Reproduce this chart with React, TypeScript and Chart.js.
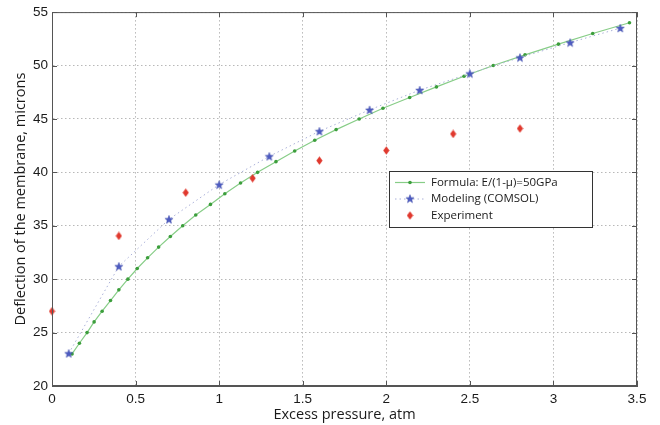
import React, { useEffect, useRef } from "react";
import { Chart, registerables } from "chart.js";
Chart.register(...registerables);

// ---- Data ----
const formulaLabel = "Formula: E/(1-\u03bc)=50GPa";
const modelingLabel = "Modeling (COMSOL)";
const experimentLabel = "Experiment";

const formulaPressure = [0.12, 0.164, 0.21, 0.252, 0.3, 0.35, 0.4, 0.454, 0.51, 0.572, 0.638, 0.708, 0.782, 0.86, 0.948, 1.034, 1.128, 1.23, 1.34, 1.452, 1.572, 1.7, 1.838, 1.98, 2.14, 2.3, 2.465, 2.64, 2.83, 3.03, 3.235, 3.455];
const formulaDeflection = [23, 24, 25, 26, 27, 28, 29, 30, 31, 32, 33, 34, 35, 36, 37, 38, 39, 40, 41, 42, 43, 44, 45, 46, 47, 48, 49, 50, 51, 52, 53, 54];

const modelPressure = [0.1, 0.4, 0.7, 1.0, 1.3, 1.6, 1.9, 2.2, 2.5, 2.8, 3.1, 3.4];
const modelDeflection = [23.05, 31.2, 35.6, 38.85, 41.5, 43.85, 45.85, 47.7, 49.25, 50.75, 52.15, 53.5];

const expPressure = [0, 0.4, 0.8, 1.2, 1.6, 2.0, 2.4, 2.8];
const expDeflection = [27.0, 34.05, 38.1, 39.45, 41.1, 42.05, 43.6, 44.1];

const xTicks = [0, 0.5, 1, 1.5, 2, 2.5, 3, 3.5];
const yTicks = [20, 25, 30, 35, 40, 45, 50, 55];

const xTitle = "Excess pressure, atm";
const yTitle = "Deflection of the membrane, microns";

// ---- Styles ----
const GREEN_LINE = "rgb(135,205,135)";
const GREEN_DOT = "#3c9e3c";
const BLUE = "#4d5bc2";
const BLUE_DOT_LINE = "#aab0d8";
const RED = "#e0392e";
const AXIS = "#555";
const GRID = "#b8b8b8";
const TEXT = "#1a1a1a";
const SANS = "'Open Sans', sans-serif";
const TICKFONT = "'Liberation Sans', Arial, sans-serif";

function makeStar(): HTMLCanvasElement {
  const c = document.createElement("canvas");
  c.width = 10; c.height = 10;
  const g = c.getContext("2d")!;
  const cx = 5, cy = 5.4, R = 4.3, r = 1.8;
  g.beginPath();
  for (let i = 0; i < 10; i++) {
    const a = -Math.PI / 2 + (i * Math.PI) / 5;
    const rad = i % 2 === 0 ? R : r;
    const px = cx + rad * Math.cos(a), py = cy + rad * Math.sin(a);
    if (i === 0) g.moveTo(px, py); else g.lineTo(px, py);
  }
  g.closePath();
  g.fillStyle = BLUE;
  g.fill();
  g.strokeStyle = "#3b48a8";
  g.lineWidth = 0.5;
  g.stroke();
  return c;
}

function makeDiamond(): HTMLCanvasElement {
  const c = document.createElement("canvas");
  c.width = 7; c.height = 9;
  const g = c.getContext("2d")!;
  g.beginPath();
  g.moveTo(3.5, 0.3); g.lineTo(6.6, 4.5); g.lineTo(3.5, 8.7); g.lineTo(0.4, 4.5);
  g.closePath();
  g.fillStyle = RED;
  g.fill();
  return c;
}

export default function App() {
  const ref = useRef<HTMLCanvasElement | null>(null);

  useEffect(() => {
    if (!ref.current) return;
    const star = makeStar();
    const diamond = makeDiamond();

    const framePlugin = {
      id: "frameAndLegend",
      afterDraw(chart: any) {
        const { ctx, chartArea } = chart;
        const { left, right, top, bottom } = chartArea;
        const xs = chart.scales.x, ys = chart.scales.y;
        ctx.save();
        ctx.strokeStyle = AXIS;
        ctx.lineWidth = 1;
        ctx.strokeRect(left + 0.5, top + 0.5, right - left - 1, bottom - top - 1);
        const tl = 5;
        ctx.beginPath();
        xTicks.forEach((v) => {
          const px = Math.round(xs.getPixelForValue(v)) + 0.5;
          ctx.moveTo(px, bottom); ctx.lineTo(px, bottom - tl);
          ctx.moveTo(px, top); ctx.lineTo(px, top + tl);
        });
        yTicks.forEach((v) => {
          const py = Math.round(ys.getPixelForValue(v)) + 0.5;
          ctx.moveTo(left, py); ctx.lineTo(left + tl, py);
          ctx.moveTo(right, py); ctx.lineTo(right - tl, py);
        });
        ctx.stroke();

        // legend
        const bx = 389.5, by = 171.5, bw = 203, bh = 56;
        ctx.fillStyle = "#fff";
        ctx.fillRect(bx, by, bw, bh);
        ctx.strokeStyle = "#333";
        ctx.strokeRect(bx, by, bw, bh);
        const rows = [182.5, 199, 215.5];
        const sx0 = 395, sx1 = 425, sxm = 410;
        // formula
        ctx.strokeStyle = GREEN_LINE;
        ctx.lineWidth = 1.2;
        ctx.beginPath(); ctx.moveTo(sx0, rows[0]); ctx.lineTo(sx1, rows[0]); ctx.stroke();
        ctx.fillStyle = GREEN_DOT;
        ctx.beginPath(); ctx.arc(sxm, rows[0], 1.8, 0, Math.PI * 2); ctx.fill();
        // modeling
        ctx.strokeStyle = BLUE_DOT_LINE;
        ctx.lineWidth = 1;
        ctx.setLineDash([1.5, 3]);
        ctx.beginPath(); ctx.moveTo(sx0, rows[1]); ctx.lineTo(sx1, rows[1]); ctx.stroke();
        ctx.setLineDash([]);
        ctx.drawImage(star, sxm - 5, rows[1] - 5.4);
        // experiment
        ctx.drawImage(diamond, sxm - 3.5, rows[2] - 4.5);
        ctx.fillStyle = TEXT;
        ctx.font = "11.5px " + SANS;
        ctx.textBaseline = "middle";
        ctx.textAlign = "left";
        const labels = chart.data.datasets.map((d: any) => d.label);
        labels.forEach((t: string, i: number) => ctx.fillText(t, 431, rows[i]));
        ctx.restore();
      },
    };

    const chart = new Chart(ref.current, {
      type: "scatter",
      data: {
        datasets: [
          {
            label: formulaLabel,
            data: formulaPressure.map((x, i) => ({ x, y: formulaDeflection[i] })),
            showLine: true,
            borderColor: GREEN_LINE,
            borderWidth: 1.2,
            pointRadius: 1.8,
            pointBackgroundColor: GREEN_DOT,
            pointBorderColor: GREEN_DOT,
            pointBorderWidth: 0,
            tension: 0,
            order: 3,
          },
          {
            label: modelingLabel,
            data: modelPressure.map((x, i) => ({ x, y: modelDeflection[i] })),
            showLine: true,
            borderColor: BLUE_DOT_LINE,
            borderWidth: 1,
            borderDash: [1.5, 3],
            pointStyle: star as any,
            pointRadius: 5,
            tension: 0,
            order: 2,
          },
          {
            label: experimentLabel,
            data: expPressure.map((x, i) => ({ x, y: expDeflection[i] })),
            showLine: false,
            pointStyle: diamond as any,
            pointRadius: 5,
            clip: false,
            order: 1,
          },
        ],
      },
      options: {
        animation: false,
        responsive: false,
        maintainAspectRatio: false,
        layout: { padding: { top: 11, right: 23, left: 0, bottom: 0 } },
        plugins: {
          legend: { display: false },
          tooltip: { enabled: false },
        },
        scales: {
          x: {
            type: "linear",
            min: 0,
            max: 3.5,
            afterBuildTicks: (s: any) => { s.ticks = xTicks.map((v) => ({ value: v })); },
            afterFit: (s: any) => { s.height = 39; },
            grid: { color: GRID, drawTicks: false, lineWidth: 1 },
            border: { display: true, color: AXIS, dash: [1.5, 2.5] },
            ticks: {
              color: TEXT,
              font: { family: TICKFONT, size: 13.5 },
              padding: 5,
              maxRotation: 0,
              callback: (v: any) => String(v),
            },
            title: {
              display: true,
              text: xTitle,
              color: TEXT,
              font: { family: SANS, size: 14.5 },
              padding: { top: 0, bottom: 1 },
            },
          },
          y: {
            type: "linear",
            min: 20,
            max: 55,
            afterBuildTicks: (s: any) => { s.ticks = yTicks.map((v) => ({ value: v })); },
            afterFit: (s: any) => { s.width = 52; },
            grid: { color: GRID, drawTicks: false, lineWidth: 1 },
            border: { display: true, color: AXIS, dash: [1.5, 2.5] },
            ticks: {
              color: TEXT,
              font: { family: TICKFONT, size: 13.5 },
              padding: 4,
              callback: (v: any) => String(v),
            },
            title: {
              display: true,
              text: yTitle,
              color: TEXT,
              font: { family: SANS, size: 14.5 },
              padding: { top: 12, bottom: 0 },
            },
          },
        },
      },
      plugins: [framePlugin],
    } as any);
    return () => chart.destroy();
  }, []);

  return (
    <div style={{ position: "fixed", left: 0, top: 0, width: 660, height: 425, background: "#fff" }}>
      <canvas ref={ref} width={660} height={425} style={{ display: "block", width: 660, height: 425 }} />
    </div>
  );
}
